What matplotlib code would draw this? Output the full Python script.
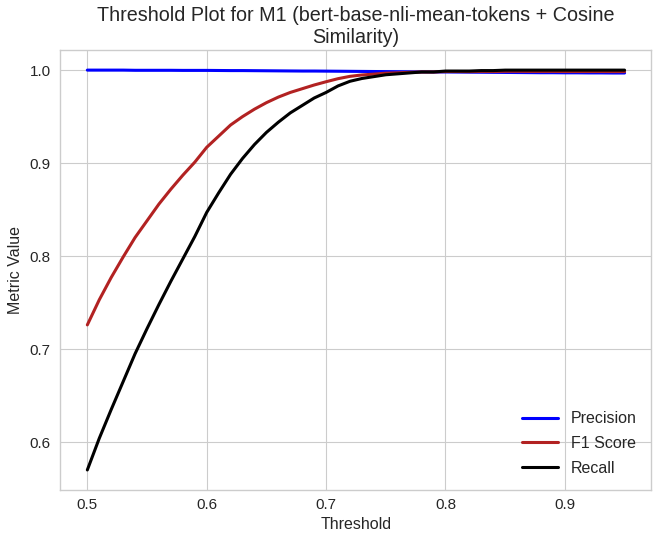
import numpy as np
import matplotlib
matplotlib.use('Agg')
import matplotlib.pyplot as plt

# threshold values (x axis)
thresholds = [0.50, 0.51, 0.52, 0.53, 0.54, 0.55, 0.56, 0.57, 0.58, 0.59,
              0.60, 0.61, 0.62, 0.63, 0.64, 0.65, 0.66, 0.67, 0.68, 0.69,
              0.70, 0.71, 0.72, 0.73, 0.74, 0.75, 0.76, 0.77, 0.78, 0.79,
              0.80, 0.81, 0.82, 0.83, 0.84, 0.85, 0.86, 0.87, 0.88, 0.89,
              0.90, 0.91, 0.92, 0.93, 0.94, 0.95]

precision = [1.0, 1.0, 1.0, 1.0, 0.9998, 0.9998, 0.9998, 0.9998, 0.9997, 0.9997,
             0.9997, 0.9996, 0.9995, 0.9995, 0.9994, 0.9993, 0.9992, 0.9991, 0.9990, 0.9990,
             0.9989, 0.9988, 0.9987, 0.9986, 0.9985, 0.9984, 0.9983, 0.9982, 0.9981, 0.9980,
             0.9980, 0.9979, 0.9978, 0.9977, 0.9976, 0.9975, 0.9974, 0.9973, 0.9972, 0.9972,
             0.9971, 0.9971, 0.9970, 0.9970, 0.9969, 0.9969]

f1_score = [0.726, 0.753, 0.777, 0.799, 0.820, 0.838, 0.856, 0.872, 0.887, 0.901,
            0.917, 0.929, 0.941, 0.950, 0.958, 0.965, 0.971, 0.976, 0.980, 0.984,
            0.9875, 0.9908, 0.9933, 0.9948, 0.9957, 0.9967, 0.9971, 0.9976, 0.998, 0.998,
            0.9985, 0.9985, 0.9984, 0.9986, 0.9985, 0.9987, 0.9987, 0.9986, 0.9986, 0.9986,
            0.9985, 0.9985, 0.9985, 0.9985, 0.9984, 0.9984]

recall = [0.570, 0.604, 0.635, 0.665, 0.695, 0.722, 0.748, 0.773, 0.797, 0.821,
          0.847, 0.868, 0.888, 0.905, 0.920, 0.933, 0.944, 0.954, 0.962, 0.970,
          0.976, 0.983, 0.988, 0.991, 0.993, 0.995, 0.996, 0.997, 0.998, 0.998,
          0.999, 0.999, 0.999, 0.9995, 0.9995, 1.0, 1.0, 1.0, 1.0, 1.0,
          1.0, 1.0, 1.0, 1.0, 1.0, 1.0]

plt.style.use('seaborn-v0_8-whitegrid')
plt.rcParams['font.family'] = ['Liberation Sans', 'DejaVu Sans']
plt.rcParams['text.color'] = '.15'
plt.rcParams['axes.labelcolor'] = '.15'
plt.rcParams['xtick.color'] = '.15'
plt.rcParams['ytick.color'] = '.15'

fig = plt.figure(figsize=(6.53, 5.39), dpi=100)
ax = fig.add_axes([0.0926, 0.091, 0.905, 0.816])

ax.plot(thresholds, precision, color='blue', lw=2.2, label='Precision')
ax.plot(thresholds, f1_score, color='firebrick', lw=2.2, label='F1 Score')
ax.plot(thresholds, recall, color='black', lw=2.2, label='Recall')

ax.set_title('Threshold Plot for M1 (bert-base-nli-mean-tokens + Cosine\nSimilarity)',
             fontsize=14.2, pad=5)
ax.set_xlabel('Threshold', fontsize=11.5)
ax.set_ylabel('Metric Value', fontsize=11.5, labelpad=5)
ax.tick_params(axis='x', labelsize=11, pad=5.5)
ax.tick_params(axis='y', labelsize=11, pad=7)
ax.set_xticks([0.5, 0.6, 0.7, 0.8, 0.9])
ax.set_yticks([0.6, 0.7, 0.8, 0.9, 1.0])
for s in ax.spines.values():
    s.set_visible(True)
    s.set_color('.8')

ax.legend(loc='lower right', fontsize=11.5, frameon=False, handlelength=2.3,
          labelspacing=0.6, borderaxespad=0.5)

fig.savefig('out.png', dpi=100)
